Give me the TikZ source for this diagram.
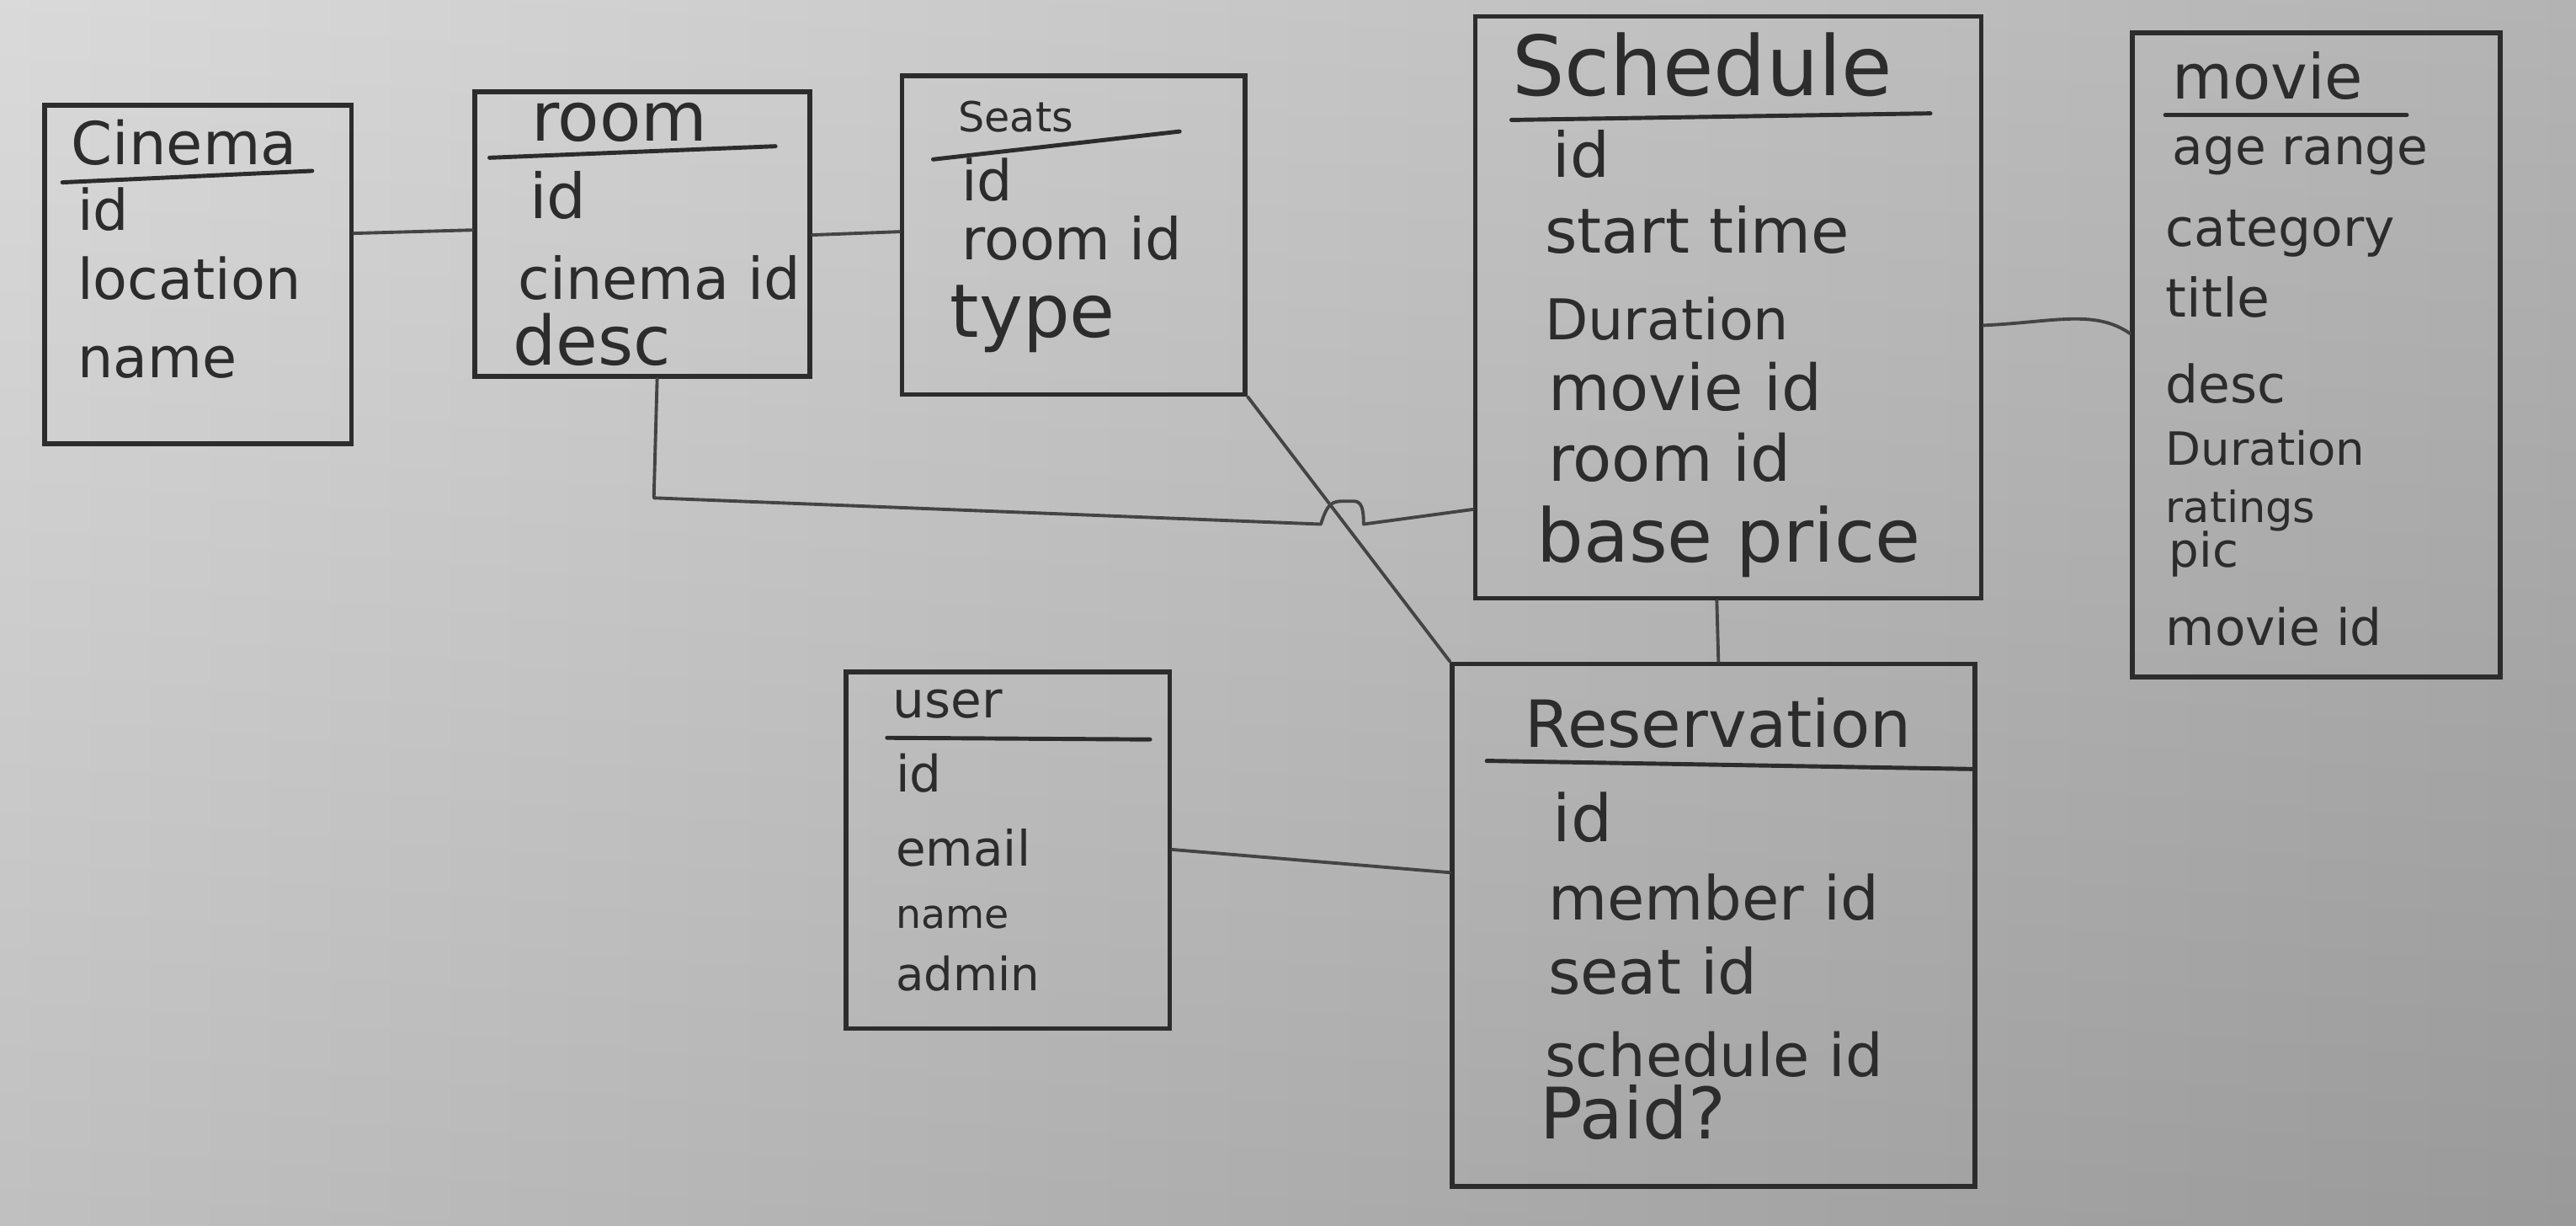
\documentclass[tikz,border=0pt]{standalone}
\usepackage{fontspec}
\setmainfont{DejaVu Sans}
\usetikzlibrary{fit}
\definecolor{ink}{HTML}{2C2C2C}
\definecolor{wire}{HTML}{444444}
\definecolor{boardA}{HTML}{D6D6D6}
\definecolor{boardB}{HTML}{ABABAB}
\begin{document}
\begin{tikzpicture}[x=0.019515cm,y=-0.019515cm,
  tbl/.style={draw=ink, line width=1.6pt, inner sep=0pt, rectangle},
  fld/.style={anchor=base west, inner sep=0pt, text=ink, font=\fontsize{#1}{#1}\selectfont},
  rule/.style={draw=ink, line width=1.4pt, line cap=round},
  link/.style={draw=wire, line width=1.1pt, line cap=round, line join=round}]

% whiteboard
\useasboundingbox (0,0) rectangle (1568,746);
\shade[left color=boardA, right color=boardB] (0,0) rectangle (1568,746);
\shade[top color=white, bottom color=black, opacity=0.10] (0,0) rectangle (1568,746);

% tables
\node[tbl, fit={(27,64) (214,270)}] (cinema) {};
\node[tbl, fit={(289,56) (493,229)}] (room) {};
\node[tbl, fit={(549,46) (758,240)}] (seats) {};
\node[tbl, fit={(898,10) (1206,364)}] (schedule) {};
\node[tbl, fit={(1298,20) (1522,412)}] (movie) {};
\node[tbl, fit={(515,409) (712,626)}] (user) {};
\node[tbl, fit={(884,404) (1202,722)}] (reservation) {};

% Cinema
\node[fld=20] (cinemaT) at (43,100) {Cinema};
\draw[rule] (38,111) -- (190,104);
\node[fld=19] (cinema1) at (47,140) {id};
\node[fld=19] (cinema2) at (47,182) {location};
\node[fld=19] (cinema3) at (47,230) {name};

% room
\node[fld=23] (roomT) at (323,86) {room};
\draw[rule] (298,96) -- (472,89);
\node[fld=21] (room1) at (322,133) {id};
\node[fld=19.5] (room2) at (315,182) {cinema id};
\node[fld=23] (room3) at (312,222) {desc};

% Seats
\node[fld=14] (seatsT) at (583,80) {Seats};
\draw[rule] (568,97) -- (718,80);
\node[fld=19] (seats1) at (585,122) {id};
\node[fld=19.5] (seats2) at (585,158) {room id};
\node[fld=25] (seats3) at (578,205) {type};

% Schedule
\node[fld=28] (schedT) at (920,58) {Schedule};
\draw[rule] (920,73) -- (1175,69);
\node[fld=21] (sched1) at (945,108) {id};
\node[fld=21] (sched2) at (940,154) {start time};
\node[fld=19] (sched3) at (940,207) {Duration};
\node[fld=21.5] (sched4) at (942,250) {movie id};
\node[fld=21.5] (sched5) at (942,293) {room id};
\node[fld=25] (sched6) at (935,342) {base price};

% movie
\node[fld=21] (movieT) at (1322,60) {movie};
\draw[rule] (1318,70) -- (1465,70);
\node[fld=17] (movie1) at (1322,100) {age range};
\node[fld=17.5] (movie2) at (1318,150) {category};
\node[fld=18] (movie3) at (1318,193) {title};
\node[fld=17.5] (movie4) at (1318,245) {desc};
\node[fld=15.5] (movie5) at (1318,283) {Duration};
\node[fld=14.5] (movie6) at (1318,318) {ratings};
\node[fld=16] (movie7) at (1320,345) {pic};
\node[fld=17] (movie8) at (1318,393) {movie id};

% user
\node[fld=17] (userT) at (543,437) {user};
\draw[rule] (540,449) -- (700,450);
\node[fld=17] (user1) at (545,482) {id};
\node[fld=16.5] (user2) at (545,527) {email};
\node[fld=13.5] (user3) at (545,565) {name};
\node[fld=15.5] (user4) at (545,603) {admin};

% Reservation
\node[fld=22] (resT) at (928,455) {Reservation};
\draw[rule] (905,463) -- (1200,468);
\node[fld=22] (res1) at (945,512) {id};
\node[fld=20.5] (res2) at (942,560) {member id};
\node[fld=21] (res3) at (942,605) {seat id};
\node[fld=20] (res4) at (940,655) {schedule id};
\node[fld=24] (res5) at (937,693) {Paid?};

% relations
\draw[link] (cinema.east |- 0,142) -- (room.west |- 0,140);
\draw[link] (room.east |- 0,143) -- (seats.west |- 0,141);
\draw[link] (room.south -| 400,0) -- (398,303) -- (804,319)
  .. controls (808,306) and (811,305) .. (818,305) -- (824,305)
  .. controls (829,305) and (830,310) .. (830,319) -- (schedule.west |- 0,310);
\draw[link] (seats.south east) -- (reservation.north west);
\draw[link] (schedule.east |- 0,198) .. controls (1250,196) and (1275,188) .. (movie.west |- 0,203);
\draw[link] (schedule.south -| 1045,0) -- (reservation.north -| 1046,0);
\draw[link] (user.east |- 0,517) -- (reservation.west |- 0,531);
\end{tikzpicture}
\end{document}
